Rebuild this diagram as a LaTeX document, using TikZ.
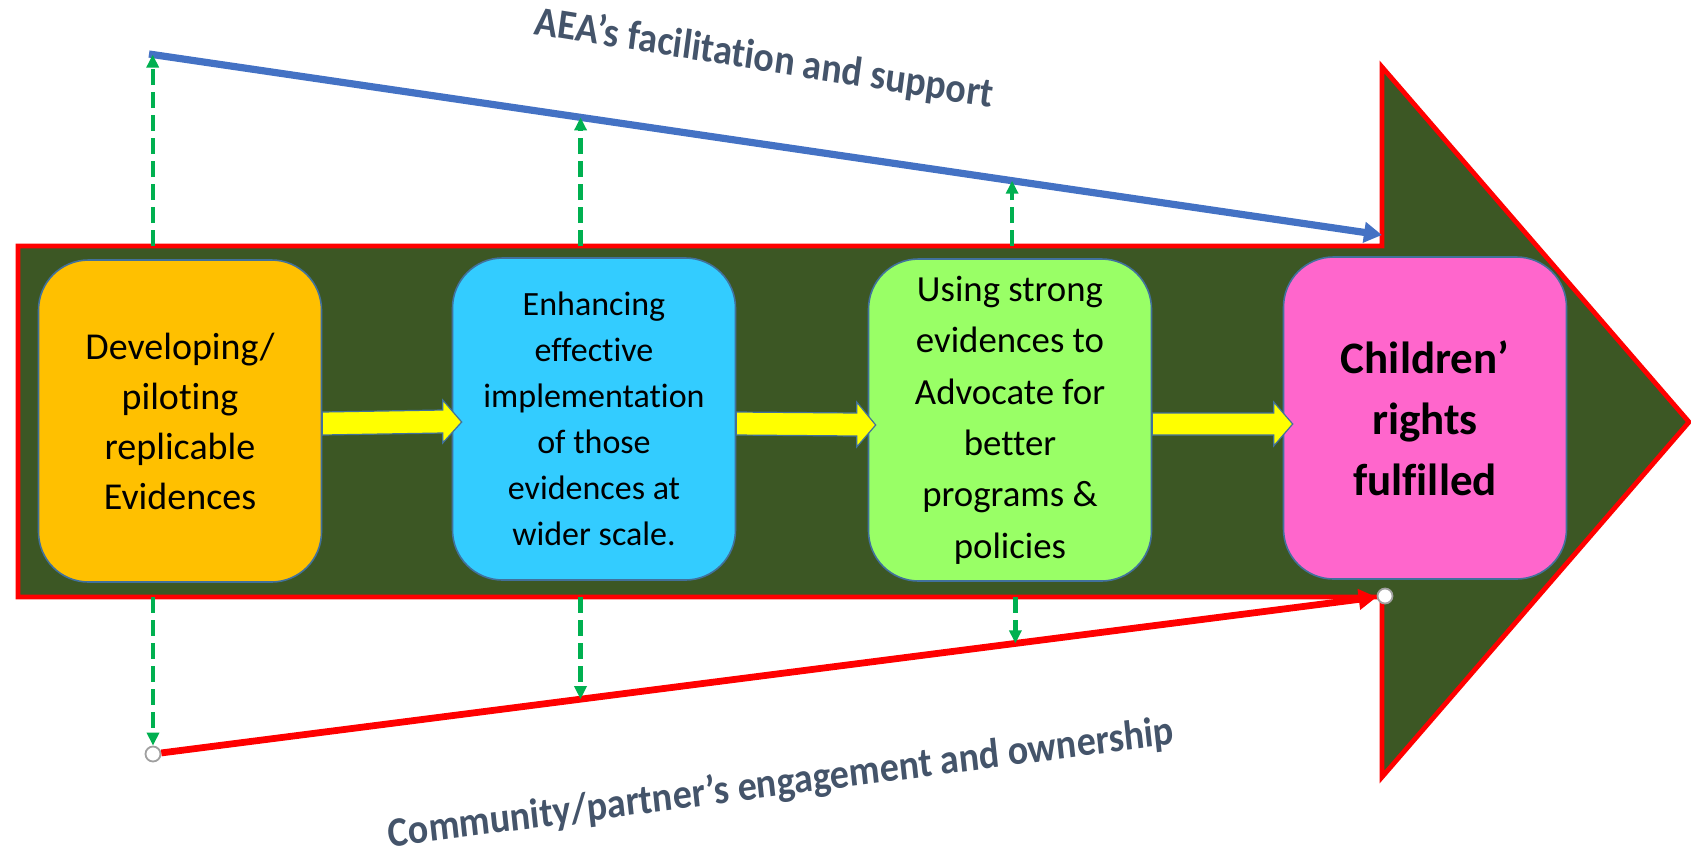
\documentclass[tikz,border=0pt]{standalone}
\usepackage{fontspec}
\setmainfont{Carlito}[Ligatures={NoCommon}]
\usetikzlibrary{calc,arrows.meta}

\begin{document}
\begin{tikzpicture}[x=0.5pt,y=0.5pt,yscale=-1,xscale=1,
  box/.style={draw={rgb, 255:red, 65; green, 113; blue, 156},line width=0.8pt,rounded corners=25pt,minimum width=141.5pt,minimum height=161pt,inner sep=0pt,align=center},
  yarrow/.style={draw={rgb, 255:red, 65; green, 113; blue, 156},line width=0.6pt,fill={rgb, 255:red, 255; green, 255; blue, 0}},
  gdash/.style={draw={rgb, 255:red, 0; green, 176; blue, 80},line width=2.2pt,dash pattern=on 8pt off 3.5pt,-{Triangle[length=6.5pt,width=6pt]}},
  dot/.style={circle,draw={rgb, 255:red, 160; green, 160; blue, 160},line width=0.9pt,fill=white,minimum size=7.5pt,inner sep=0pt},
  lbl/.style={text={rgb, 255:red, 68; green, 84; blue, 106},font=\bfseries\fontsize{19}{23}\selectfont,inner sep=0pt,yscale=1.1}]
\useasboundingbox (0,0) rectangle (1691,853);

%Shapes: big arrow
\draw [color={rgb, 255:red, 255; green, 0; blue, 0 },line width=2.4pt,fill={rgb, 255:red, 60; green, 87; blue, 36 }] (18,246) -- (1382,246) -- (1382,67) -- (1689,422) -- (1382,777) -- (1382,597) -- (18,597) -- cycle ;
\coordinate (bodyNW) at (18,246);
\coordinate (bodySW) at (18,597);

%Straight Lines: facilitation and support
\coordinate (aeaS) at (149,54);
\coordinate (aeaE) at (1382,235);
\draw [color={rgb, 255:red, 68; green, 114; blue, 196 },line width=3.6pt,-{Triangle[length=9pt,width=10pt]}] (aeaS) -- (aeaE) ;

%Straight Lines: engagement and ownership
\node [dot] (comS) at (153,754) {};
\node [dot] (comE) at (1385,596) {};
\draw [color={rgb, 255:red, 255; green, 0; blue, 0 },line width=3.4pt,-{Triangle[length=9pt,width=10pt]}] (comS) -- (comE) ;

%Dashed arrows
\coordinate (u1) at ($(aeaS)!0.003!(aeaE)$);
\coordinate (u2) at ($(aeaS)!0.35!(aeaE)$);
\coordinate (u3) at ($(aeaS)!0.70!(aeaE)$);
\coordinate (d2) at ($(comS)!0.347!(comE)$);
\coordinate (d3) at ($(comS)!0.70!(comE)$);
\draw [gdash] (u1 |- bodyNW) -- (u1) ;
\draw [gdash] (u2 |- bodyNW) -- (u2) ;
\draw [gdash] (u3 |- bodyNW) -- (u3) ;
\draw [gdash] (comS |- bodySW) -- (comS.north) ;
\draw [gdash] (d2 |- bodySW) -- (d2) ;
\draw [gdash] (d3 |- bodySW) -- (d3) ;

% Boxes
\node [box,fill={rgb, 255:red, 255; green, 192; blue, 0 },font=\fontsize{19}{25}\selectfont] (develop) at (180,421) {Developing/\\piloting\\replicable\\Evidences};
\node [box,fill={rgb, 255:red, 51; green, 204; blue, 255 },font=\fontsize{17}{23}\selectfont] (enhance) at (594,419) {Enhancing\\effective\\implementation\\of those\\evidences at\\wider scale.};
\node [box,fill={rgb, 255:red, 153; green, 255; blue, 102 },font=\fontsize{18.4}{25.7}\selectfont] (advocate) at (1010,420) {Using strong\\evidences to\\Advocate for\\better\\programs \&\\policies};
\node [box,fill={rgb, 255:red, 255; green, 102; blue, 204 },font=\bfseries\fontsize{22.5}{30.5}\selectfont] (rights) at (1425,418) {Children’\\rights\\fulfilled};

% Block arrows
\draw [yarrow] ($(develop.east)+(0,-9)$) -- ($(enhance.west)+(-9,-9)$) -- ($(enhance.west)+(-9,-19)$) -- ($(enhance.west)+(10,3)$) -- ($(enhance.west)+(-9,24)$) -- ($(enhance.west)+(-9,14)$) -- ($(develop.east)+(0,14)$) -- cycle ;
\draw [yarrow] ($(enhance.east)+(0,-7)$) -- ($(advocate.west)+(-11,-7)$) -- ($(advocate.west)+(-11,-18)$) -- ($(advocate.west)+(8,5)$) -- ($(advocate.west)+(-11,27)$) -- ($(advocate.west)+(-11,16)$) -- ($(enhance.east)+(0,16)$) -- cycle ;
\draw [yarrow] ($(advocate.east)+(0,-7)$) -- ($(rights.west)+(-9,-5)$) -- ($(rights.west)+(-9,-16)$) -- ($(rights.west)+(10,6)$) -- ($(rights.west)+(-9,28)$) -- ($(rights.west)+(-9,17)$) -- ($(advocate.east)+(0,15)$) -- cycle ;

% Text Node
\node [lbl,rotate=-8.3] (aea) at (764,59) {AEA’s facilitation and support};
% Text Node
\node [lbl,rotate=6.8] (community) at (781,784) {Community/partner’s engagement and ownership};

\end{tikzpicture}
\end{document}
